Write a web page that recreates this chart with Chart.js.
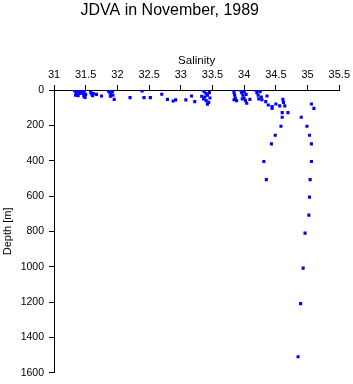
<!DOCTYPE html>
<html>
<head>
<meta charset="utf-8">
<script src="https://cdn.jsdelivr.net/npm/chart.js@4"></script>
<style>
  html, body { margin: 0; padding: 0; background: #fff; }
  #wrap { width: 353px; height: 384px; }
</style>
</head>
<body>
<div id="wrap"><canvas id="ctdChart" width="353" height="384"></canvas></div>
<script>
const titleText = "JDVA in November, 1989";
const xTitle = "Salinity";
const yTitle = "Depth [m]";

const salinity = [
  31.33, 31.35, 31.36, 31.38, 31.40, 31.41, 31.38, 31.34,
  31.44, 31.46, 31.47, 31.49, 31.50, 31.48,
  31.58, 31.60, 31.62, 31.61, 31.67, 31.75,
  31.86, 31.88, 31.90, 31.92, 31.93, 31.89, 31.95,
  32.20, 32.39, 32.42, 32.52, 32.70, 32.79, 32.88, 32.92, 33.08, 33.17, 33.22,
  33.35, 33.37, 33.40, 33.42, 33.38, 33.36, 33.40, 33.44, 33.42, 33.46, 33.33, 33.45,
  33.83, 33.84, 33.85, 33.86, 33.88, 33.84,
  33.94, 33.96, 33.98, 34.00, 34.02, 34.04, 34.00, 33.97, 34.03, 34.09,
  34.18, 34.20, 34.22, 34.25, 34.27, 34.28, 34.23, 34.26,
  34.36, 34.34, 34.38, 34.44, 34.44, 34.50, 34.56, 34.61, 34.64, 34.62,
  34.60, 34.69, 34.60, 34.90, 34.58, 34.99, 34.49, 35.03, 34.43, 35.06,
  34.31, 35.06, 34.35, 35.04, 35.03, 35.02, 34.96, 34.93, 34.89, 34.85,
  35.06, 35.10
];

const depth = [
  5, 15, 25, 32, 10, 20, 0, 30,
  10, 20, 35, 42, 25, 5,
  15, 25, 20, 32, 25, 34,
  5, 15, 25, 10, 30, 35, 53,
  43, 5, 43, 43, 24, 53, 62, 56, 56, 34, 66,
  0, 10, 20, 30, 40, 50, 60, 70, 80, 45, 35, 15,
  0, 15, 30, 45, 60, 55,
  0, 15, 30, 45, 60, 75, 10, 50, 25, 53,
  0, 15, 30, 10, 40, 55, 50, 0,
  34, 66, 85, 94, 105, 79, 90, 53, 90, 70,
  128, 128, 154, 154, 205, 205, 256, 256, 305, 305,
  405, 405, 507, 507, 606, 708, 810, 1008, 1209, 1510,
  79, 104
];

const font = "'Liberation Sans', Arial, Helvetica, sans-serif";

const points = salinity.map((s, i) => ({ x: s, y: depth[i] }));

new Chart(document.getElementById("ctdChart"), {
  type: "scatter",
  data: {
    datasets: [
      {
        data: points,
        backgroundColor: "#0000ff",
        borderWidth: 0,
        pointStyle: "rect",
        pointRadius: 2.2,
      },
    ],
  },
  options: {
    responsive: false,
    animation: false,
    devicePixelRatio: 1,
    layout: { padding: { left: 0, right: 13.5, top: 0, bottom: 11 } },
    plugins: {
      legend: { display: false },
      tooltip: { enabled: false },
      title: {
        display: true,
        text: titleText,
        color: "#000",
        font: { family: font, size: 16, weight: "normal", lineHeight: 1.2 },
        padding: { top: 1, bottom: 0 },
      },
    },
    scales: {
      x: {
        type: "linear",
        position: "top",
        min: 31,
        max: 35.5,
        afterFit: s => { s.height = 69.8; },
        ticks: {
          stepSize: 0.5,
          color: "#000",
          padding: 3,
          maxRotation: 0,
          font: { family: font, size: 11 },
          callback: v => String(v),
        },
        grid: { drawOnChartArea: false, tickLength: 5, color: "#000" },
        border: { color: "#000", width: 1 },
        title: {
          display: true,
          text: xTitle,
          color: "#000",
          font: { family: font, size: 11.5 },
          padding: { top: 34, bottom: 0 },
        },
      },
      y: {
        type: "linear",
        reverse: true,
        min: 0,
        max: 1600,
        afterFit: s => { s.width = 54; },
        ticks: {
          stepSize: 200,
          color: "#000",
          padding: 5,
          font: { family: font, size: 10.5 },
          callback: v => String(v),
        },
        grid: { drawOnChartArea: false, tickLength: 5, color: "#000" },
        border: { color: "#000", width: 1 },
        title: {
          display: true,
          text: yTitle,
          color: "#000",
          font: { family: font, size: 11 },
          padding: { top: 1, bottom: 0 },
        },
      },
    },
  },
});
</script>
</body>
</html>
